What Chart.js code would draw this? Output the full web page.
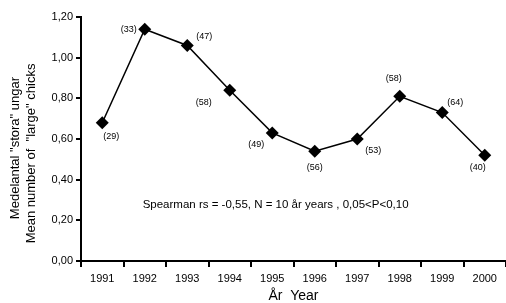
<!DOCTYPE html>
<html>
<head>
<meta charset="utf-8">
<script src="https://cdn.jsdelivr.net/npm/chart.js@4/dist/chart.umd.min.js"></script>
<style>
  html, body { margin: 0; padding: 0; background: #fff; }
  #wrap { width: 506px; height: 303px; }
</style>
</head>
<body>
<div id="wrap"><canvas id="plot" width="506" height="303"></canvas></div>
<script>
  // data
  var years = ['1991', '1992', '1993', '1994', '1995', '1996', '1997', '1998', '1999', '2000'];
  var meanChicks = [0.68, 1.14, 1.06, 0.84, 0.63, 0.54, 0.60, 0.81, 0.73, 0.52];
  var sampleN = [29, 33, 47, 58, 49, 56, 53, 58, 64, 40];
  var yTitle = ['Medelantal "stora" ungar', 'Mean number of  "large" chicks'];
  var xTitle = 'År  Year';
  var note = 'Spearman rs = -0,55, N = 10 år years , 0,05<P<0,10';

  var FONT = '"Liberation Sans", Arial, sans-serif';

  // where each (n) label sits relative to its point, in px
  var labelShift = [[9, 14], [-16, 0], [17, -9], [-26, 12], [-16, 12],
                    [0, 16], [16, 12], [-6, -18], [13, -10], [-7, 12]];

  var labelsPlugin = {
    id: 'labels',
    afterDatasetsDraw: function(chart) {
      var ctx = chart.ctx;
      var meta = chart.getDatasetMeta(0);
      ctx.save();
      ctx.fillStyle = '#000';
      ctx.font = '9px ' + FONT;
      ctx.textAlign = 'center';
      ctx.textBaseline = 'middle';
      for (var i = 0; i < sampleN.length; i++) {
        var p = meta.data[i];
        ctx.fillText('(' + sampleN[i] + ')', p.x + labelShift[i][0], p.y + labelShift[i][1]);
      }
      // spearman note
      var xs = chart.scales.x, ys = chart.scales.y;
      ctx.font = '11.5px ' + FONT;
      ctx.textAlign = 'left';
      ctx.fillText(note, xs.getPixelForValue(0.95), ys.getPixelForValue(0.275));
      ctx.restore();
    }
  };

  var config = {
    type: 'line',
    data: {
      labels: years,
      datasets: [{
        data: meanChicks,
        borderColor: '#000',
        backgroundColor: '#000',
        borderWidth: 1.5,
        pointStyle: 'rectRot',
        pointRadius: 6.5,
        pointHoverRadius: 6.5,
        pointBorderWidth: 0,
        tension: 0,
        clip: false
      }]
    },
    options: {
      responsive: false,
      animation: false,
      devicePixelRatio: 1,
      layout: { autoPadding: false, padding: { top: 17, right: 0, left: 0, bottom: 0 } },
      plugins: { legend: { display: false }, tooltip: { enabled: false } },
      scales: {
        x: {
          offset: true,
          grid: { display: true, offset: true, drawOnChartArea: false, tickLength: 6, color: '#000', lineWidth: 2 },
          border: { color: '#000', width: 2 },
          ticks: { color: '#000', font: { family: FONT, size: 11 }, padding: 5, maxRotation: 0 },
          title: { display: true, text: xTitle, color: '#000', font: { family: FONT, size: 14 }, padding: { top: 0, bottom: -2 } },
          afterFit: function(s) { s.height = 42; s.paddingLeft = 0; s.paddingRight = 0; }
        },
        y: {
          min: 0,
          max: 1.2,
          grid: { display: true, drawOnChartArea: false, tickLength: 5, color: '#000', lineWidth: 2 },
          border: { color: '#000', width: 2 },
          ticks: {
            stepSize: 0.2,
            color: '#000',
            font: { family: FONT, size: 11 },
            padding: 3,
            callback: function(v) { return v.toFixed(2).replace('.', ','); }
          },
          title: {
            display: true,
            // trailing spaces push the rotated lines a bit lower, as in the original
            text: [yTitle[0] + '     ', yTitle[1] + '        '],
            color: '#000', font: { family: FONT, size: 13 }, padding: { top: 8, bottom: 4 }
          },
          afterFit: function(s) { s.width = 81; s.paddingTop = 0; s.paddingBottom = 0; }
        }
      }
    },
    plugins: [labelsPlugin]
  };

  var plotCtx = document.getElementById('plot').getContext('2d');
  var chart = new Chart(plotCtx, config);
</script>
</body>
</html>
